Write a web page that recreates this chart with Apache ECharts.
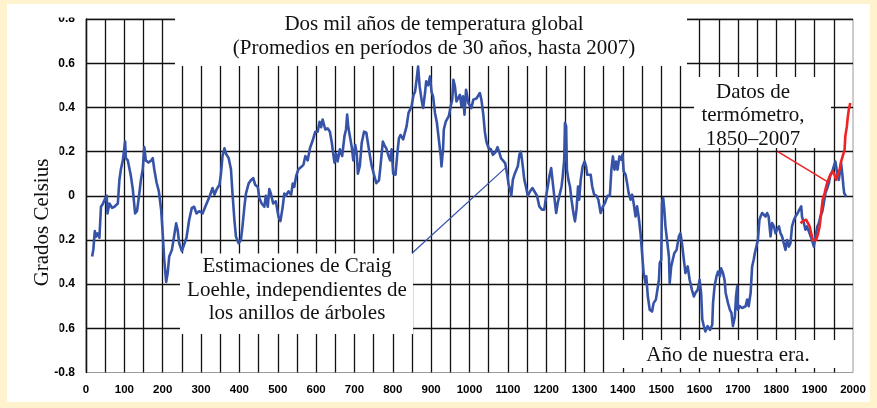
<!DOCTYPE html>
<html>
<head>
<meta charset="utf-8">
<script src="https://cdn.jsdelivr.net/npm/echarts@6/dist/echarts.min.js"></script>
<style>
  html, body { margin: 0; padding: 0; }
  #frame { position: relative; width: 877px; height: 408px; background: #fff3cd; overflow: hidden; }
  #panel { position: absolute; left: 7px; top: 4px; width: 863px; height: 398px; background: #ffffff; }
  #chart { position: absolute; left: 0; top: 0; width: 877px; height: 408px; }
</style>
</head>
<body>
<div id="frame"><div id="panel"></div><div id="chart"></div></div>
<script>
// Loehle reconstruction, 30-year means (year AD, anomaly in degrees C)
const loehleYears = [
  16,19,23,26,30,35,39,43,48,54,56,61,68,74,83,87,91,96,102,104,109,117,122,128,133,139,143,148,152,156,
  163,170,174,178,184,190,196,200,204,209,213,217,224,230,235,239,243,250,256,262,269,276,282,288,295,
  304,311,317,323,330,335,341,348,352,356,361,365,372,378,382,387,391,398,404,408,413,417,424,430,436,
  441,448,452,458,465,469,474,478,482,488,495,502,507,513,517,521,528,535,539,543,548,554,561,567,572,
  578,584,591,598,604,609,613,617,624,630,636,641,645,648,652,656,662,668,674,678,681,684,688,693,697,
  702,706,709,714,719,725,731,735,740,745,751,757,764,768,774,779,783,788,793,797,801,807,812,816,820,
  827,832,836,841,845,849,854,858,862,866,870,875,879,884,887,892,897,901,905,910,915,920,925,927,931,
  933,938,942,946,951,955,958,962,966,971,975,979,983,987,991,997,1001,1005,1010,1014,1018,1023,1027,
  1031,1036,1040,1044,1050,1056,1061,1067,1073,1078,1082,1087,1093,1098,1102,1106,1109,1113,1118,1122,
  1126,1130,1134,1138,1143,1147,1152,1158,1164,1169,1176,1182,1189,1195,1200,1204,1209,1213,1217,1222,
  1226,1230,1236,1240,1243,1247,1249,1252,1254,1258,1262,1266,1271,1275,1279,1283,1286,1290,1295,1300,
  1304,1307,1312,1316,1320,1325,1331,1336,1342,1348,1353,1360,1366,1370,1374,1378,1382,1386,1391,1395,
  1399,1402,1407,1411,1415,1420,1424,1428,1433,1437,1441,1446,1450,1454,1459,1461,1465,1470,1476,1480,
  1486,1491,1494,1496,1500,1502,1505,1508,1511,1515,1520,1522,1526,1530,1534,1540,1546,1550,1554,1559,
  1563,1569,1574,1580,1585,1589,1595,1600,1604,1607,1611,1615,1621,1627,1633,1635,1639,1644,1648,1653,
  1656,1661,1665,1668,1674,1679,1683,1687,1692,1695,1698,1700,1705,1711,1715,1720,1724,1728,1733,1737,
  1741,1744,1748,1752,1756,1759,1763,1767,1772,1776,1780,1785,1789,1794,1798,1802,1807,1811,1815,1820,
  1824,1828,1833,1837,1841,1846,1850,1856,1860,1865,1867,1872,1876,1880,1885,1889,1893,1898,1902,1907,
  1911,1915,1920,1924,1928,1933,1937,1941,1946,1950,1954,1959,1963,1966,1969,1972,1975,1977,1981,1983
];
const loehleTemps = [
  -0.275,-0.245,-0.16,-0.185,-0.17,-0.19,-0.05,-0.04,-0.02,0.0,-0.08,-0.035,-0.055,-0.05,-0.035,0.07,0.12,0.16,0.245,0.17,0.16,0.09,0.03,-0.08,-0.07,0.01,0.07,0.12,0.22,0.16,
  0.15,0.16,0.17,0.12,0.06,0.02,-0.065,-0.17,-0.29,-0.39,-0.35,-0.275,-0.245,-0.18,-0.125,-0.155,-0.215,-0.25,-0.22,-0.19,-0.11,-0.055,-0.05,-0.08,-0.07,
  -0.08,-0.05,-0.025,0.0,0.035,0.005,0.03,0.05,0.10,0.18,0.215,0.19,0.17,0.12,0.01,-0.11,-0.185,-0.215,-0.2,-0.14,-0.05,0.01,0.055,0.07,0.08,
  0.05,0.04,-0.01,-0.035,-0.05,0.0,-0.05,0.03,0.01,-0.035,-0.025,-0.095,-0.115,-0.05,0.01,0.0,0.02,0.005,0.055,0.04,0.09,0.12,0.13,0.14,0.18,
  0.16,0.215,0.25,0.29,0.29,0.335,0.31,0.345,0.30,0.305,0.29,0.24,0.185,0.15,0.19,0.155,0.21,0.18,0.27,0.30,0.367,0.31,0.27,0.22,0.16,
  0.23,0.19,0.10,0.135,0.24,0.29,0.285,0.24,0.185,0.135,0.095,0.057,0.07,0.135,0.245,0.225,0.215,0.185,0.16,0.21,0.10,0.095,0.195,0.26,0.275,
  0.255,0.26,0.315,0.375,0.39,0.405,0.457,0.47,0.525,0.585,0.495,0.435,0.397,0.465,0.518,0.50,0.54,0.47,0.45,0.375,0.33,0.255,0.18,0.133,0.21,
  0.30,0.335,0.33,0.36,0.405,0.435,0.525,0.495,0.427,0.42,0.457,0.405,0.45,0.367,0.48,0.42,0.427,0.397,0.435,0.427,0.44,0.435,0.465,
  0.435,0.367,0.29,0.245,0.215,0.21,0.185,0.195,0.22,0.195,0.17,0.163,0.148,0.10,0.05,0.027,0.0,0.072,0.10,0.095,
  0.133,0.185,0.20,0.148,0.072,0.042,0.0,0.02,0.035,0.042,0.0,-0.048,-0.063,-0.063,0.0,0.042,0.095,0.125,0.133,-0.018,
  -0.078,-0.033,0.012,0.042,0.087,0.163,0.33,0.315,0.118,0.072,0.042,-0.018,-0.078,-0.116,-0.063,0.042,-0.018,0.072,0.133,0.155,
  0.133,0.095,0.10,0.095,0.042,0.005,0.0,-0.018,-0.078,-0.048,-0.033,0.0,0.0,0.118,0.178,0.118,0.155,0.118,0.178,0.163,
  0.186,0.11,0.095,0.057,0.012,-0.018,0.005,-0.033,-0.094,-0.048,-0.094,-0.17,-0.26,-0.35,-0.395,-0.365,-0.456,-0.516,-0.524,-0.486,
  -0.47,-0.463,-0.38,-0.305,-0.29,-0.033,-0.01,-0.063,-0.139,-0.2,-0.275,-0.395,-0.32,-0.29,-0.26,-0.245,-0.184,-0.17,-0.215,-0.29,
  -0.35,-0.32,-0.38,-0.426,-0.456,-0.44,-0.426,-0.38,-0.44,-0.56,-0.59,-0.614,-0.59,-0.607,-0.584,-0.486,-0.41,-0.365,-0.343,-0.365,
  -0.328,-0.35,-0.38,-0.44,-0.486,-0.516,-0.53,-0.59,-0.546,-0.456,-0.41,-0.516,-0.5,-0.508,-0.5,-0.5,-0.47,-0.5,-0.44,-0.32,
  -0.29,-0.26,-0.23,-0.2,-0.109,-0.094,-0.078,-0.071,-0.094,-0.078,-0.094,-0.184,-0.124,-0.139,-0.17,-0.154,-0.139,-0.17,-0.184,-0.184,
  -0.245,-0.2,-0.23,-0.215,-0.139,-0.109,-0.094,-0.078,-0.063,-0.048,-0.094,-0.124,-0.154,-0.139,-0.162,-0.17,-0.2,-0.23,-0.184,-0.139,
  -0.124,-0.094,-0.071,-0.033,0.012,0.035,0.057,0.095,0.11,0.133,0.155,0.10,0.072,0.11,0.148,0.10,0.042,0.012,0.0,-0.003
];

// Thermometer record, 30-year means
const thermoYears = [1863,1871,1878,1883,1887,1891,1895,1900,1904,1908,1913,1917,1921,1926,1930,1934,1939,1943,1947,1952,1956,1960,1965,1969,1973,1978,1980,1984,1986,1989,1993];
const thermoTemps = [-0.124,-0.113,-0.109,-0.109,-0.139,-0.17,-0.2,-0.207,-0.2,-0.177,-0.139,-0.078,-0.018,0.012,0.042,0.065,0.087,0.095,0.11,0.095,0.072,0.08,0.118,0.155,0.178,0.208,0.27,0.314,0.35,0.39,0.42];

const titleLines = ['Dos mil años de temperatura global', '(Promedios en períodos de 30 años, hasta 2007)'];
const yAxisTitle = 'Grados Celsius';
const xAxisNote = 'Año de nuestra era.';
const loehleNote = ['Estimaciones de Craig', 'Loehle, independientes de', 'los anillos de árboles'];
const thermoNote = ['Datos de', 'termómetro,', '1850–2007'];

const xMin = 0, xMax = 2000, xStep = 50, xLabelStep = 100;
const yMin = -0.8, yMax = 0.8, yStep = 0.2;

const zip = (xs, ys) => xs.map((x, i) => [x, ys[i]]);

const SERIF = '"Liberation Serif", "Times New Roman", serif';
const SANS = '"Liberation Sans", Arial, sans-serif';
const BLUE = '#3653a8';
const RED = '#ee2424';

const chart = echarts.init(document.getElementById('chart'), null, { renderer: 'canvas' });

chart.setOption({
  animation: false,
  backgroundColor: 'transparent',
  grid: {
    left: 86, top: 19, right: 24, bottom: 35.5,
    show: true, borderColor: '#9a9a9a', borderWidth: 1, backgroundColor: 'transparent'
  },
  xAxis: {
    type: 'value', min: xMin, max: xMax, interval: xStep,
    axisLine: { show: false },
    axisTick: { show: false },
    axisLabel: {
      margin: 11,
      color: '#000', fontFamily: SANS, fontWeight: 'bold', fontSize: 11.5,
      formatter: v => (v % xLabelStep === 0 ? String(v) : '')
    },
    splitLine: { show: true, showMaxLine: false, lineStyle: { color: '#111', width: 1.3 } }
  },
  yAxis: {
    type: 'value', min: yMin, max: yMax, interval: yStep,
    axisLine: { show: true, lineStyle: { color: '#111', width: 1.3 } },
    axisTick: { show: false },
    axisLabel: {
      margin: 11,
      color: '#000', fontFamily: SANS, fontWeight: 'bold', fontSize: 12,
      formatter: v => (Math.abs(v) < 1e-9 ? '0' : v.toFixed(1))
    },
    splitLine: { show: true, showMinLine: false, lineStyle: { color: '#111', width: 1.3 } }
  },
  series: [
    {
      name: 'Loehle', type: 'line', data: zip(loehleYears, loehleTemps),
      showSymbol: false, symbol: 'none', z: 3,
      lineStyle: { color: BLUE, width: 2.6, join: 'round' }
    },
    {
      name: 'Termómetro', type: 'line', data: zip(thermoYears, thermoTemps),
      showSymbol: false, symbol: 'none', z: 4,
      lineStyle: { color: RED, width: 2.6, join: 'round' }
    }
  ]
});

const px = (x, y) => chart.convertToPixel({ gridIndex: 0 }, [x, y]);

function textEl(lines, x, y, rotation) {
  return {
    type: 'text', z: 10,
    x: x, y: y, rotation: rotation || 0,
    style: {
      text: lines.join('\n'), x: 0, y: 0,
      font: '21px ' + SERIF, fill: '#111',
      align: 'center', verticalAlign: 'middle',
      textAlign: 'center', textVerticalAlign: 'middle',
      lineHeight: 23.5
    }
  };
}
function box(x1, y1, x2, y2) {
  return { type: 'rect', z: 1, shape: { x: x1, y: y1, width: x2 - x1, height: y2 - y1 }, style: { fill: '#fff' } };
}

// pointers from the note boxes to the curves
const bp0 = px(850, -0.26), bp1 = px(1093, 0.125);
const rp0 = px(1804, 0.2), rp1 = px(1932, 0.065);

chart.setOption({
  graphic: [
    box(175, 4, 687, 66),          // title panel
    box(180, 253.5, 413, 334),     // Loehle note
    box(694, 77, 831, 148),        // thermometer note
    box(609, 340, 845, 368),       // x-axis note
    box(8, 86, 59.5, 345),         // y-axis title panel
    box(40, 4, 82, 17.5),          // top margin
    textEl(titleLines, 434, 36.5),
    textEl(loehleNote, 297, 290),
    textEl(thermoNote, 753, 115.5),
    textEl([xAxisNote], 728, 355),
    textEl([yAxisTitle], 42.5, 222.5, Math.PI / 2),
    { type: 'line', z: 5, shape: { x1: bp0[0], y1: bp0[1], x2: bp1[0], y2: bp1[1] }, style: { stroke: BLUE, lineWidth: 1.3 } },
    { type: 'line', z: 5, shape: { x1: rp0[0], y1: rp0[1], x2: rp1[0], y2: rp1[1] }, style: { stroke: RED, lineWidth: 1.6 } }
  ]
});
</script>
</body>
</html>
